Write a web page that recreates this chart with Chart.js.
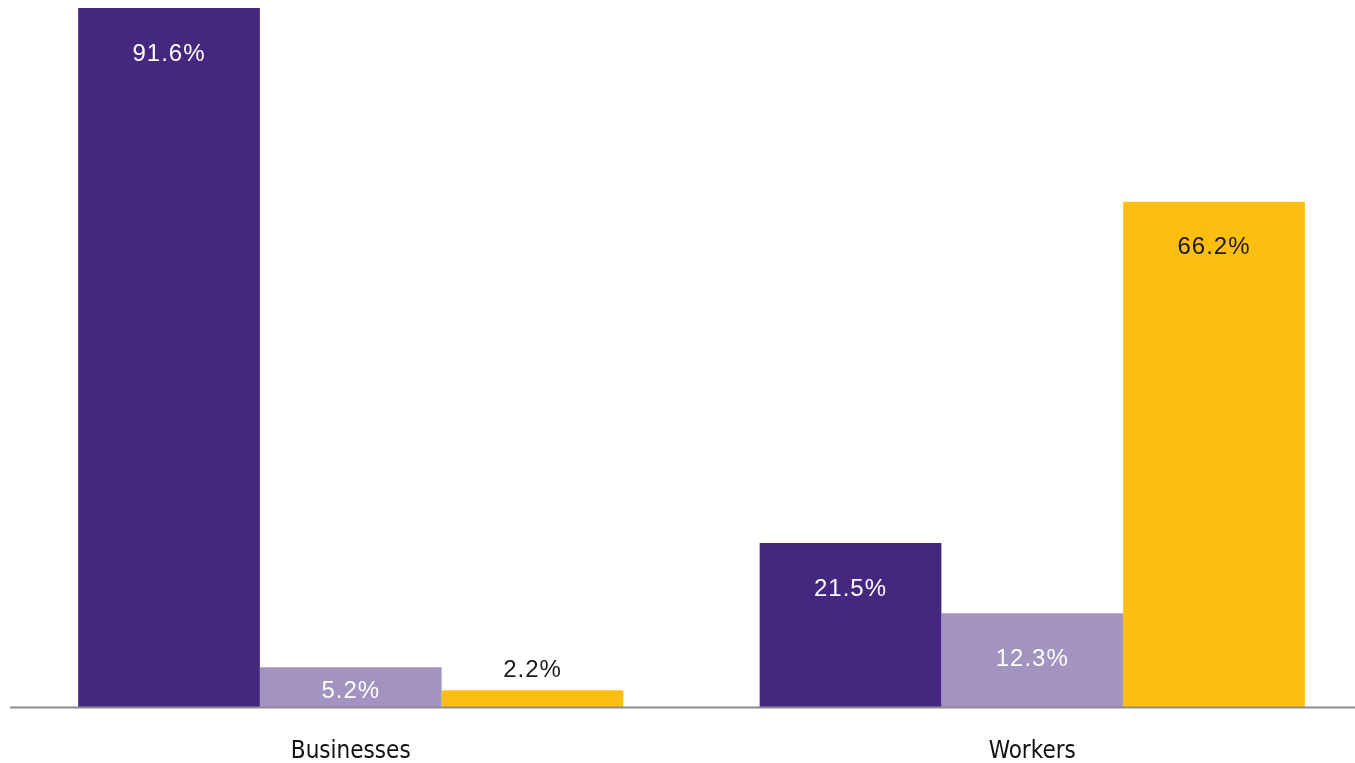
<!DOCTYPE html>
<html>
<head>
<meta charset="utf-8">
<script src="https://cdn.jsdelivr.net/npm/chart.js@4/dist/chart.umd.min.js"></script>
<style>
  html, body { margin: 0; padding: 0; background: #fff; overflow: hidden; }
  #wrap { position: relative; width: 1373px; height: 763px; }
</style>
</head>
<body>
<div id="wrap"><canvas id="shareChart"></canvas></div>
<script>
// Share of businesses vs. workers by firm size group
const categories = ['Businesses', 'Workers'];
const smallFirms = [91.6, 21.5];
const midFirms = [5.2, 12.3];
const largeFirms = [2.2, 66.2];

const seriesColors = ['#46277f', '#a293c0', '#fcbf10'];
const labelColors = ['#fff', '#fff', '#1a1a1a'];

// Draws the percentage on each bar: inside near the top, or above the bar when it is too thin
const barValueLabels = {
    id: 'barValueLabels',
    afterDatasetsDraw(chart) {
        const ctx = chart.ctx;
        ctx.save();
        ctx.font = '24px "Liberation Sans", Arial, sans-serif';
        ctx.letterSpacing = '1px';
        ctx.textAlign = 'center';
        ctx.textBaseline = 'middle';
        chart.data.datasets.forEach((ds, di) => {
            chart.getDatasetMeta(di).data.forEach((bar, i) => {
                const v = ds.data[i];
                const h = bar.base - bar.y;
                let y, color = labelColors[di];
                if (h < 30) {
                    y = bar.y - 20;
                    color = '#1a1a1a';
                } else if (h < 90) {
                    y = bar.y + Math.min(47, h / 2 + 4);
                } else {
                    y = bar.y + 46;
                }
                ctx.fillStyle = color;
                ctx.fillText(v.toFixed(1) + '%', bar.x, y);
            });
        });
        ctx.restore();
    }
};

// Baseline under the bars
const baseLine = {
    id: 'baseLine',
    afterDatasetsDraw(chart) {
        const ctx = chart.ctx;
        const y = chart.scales.y.getPixelForValue(0);
        ctx.save();
        ctx.strokeStyle = '#8c8c8c';
        ctx.lineWidth = 2;
        ctx.beginPath();
        ctx.moveTo(chart.chartArea.left, y + 0.5);
        ctx.lineTo(chart.width, y + 0.5);
        ctx.stroke();
        ctx.restore();
    }
};

new Chart(document.getElementById('shareChart'), {
    type: 'bar',
    data: {
        labels: categories,
        datasets: [
            { label: 'Small', data: smallFirms, backgroundColor: seriesColors[0] },
            { label: 'Mid', data: midFirms, backgroundColor: seriesColors[1] },
            { label: 'Large', data: largeFirms, backgroundColor: seriesColors[2] }
        ]
    },
    options: {
        responsive: true,
        maintainAspectRatio: false,
        animation: false,
        categoryPercentage: 0.8,
        barPercentage: 1.0,
        layout: { padding: { left: 10, right: 0, top: 8, bottom: 0 } },
        plugins: { legend: { display: false }, tooltip: { enabled: false } },
        scales: {
            x: {
                grid: { display: false, drawTicks: false },
                border: { display: false },
                afterFit(scale) { scale.height = 56; },
                ticks: {
                    color: '#111',
                    padding: 30,
                    font: { family: '"Liberation Sans Narrow", "DejaVu Sans Condensed", sans-serif', size: 24 }
                }
            },
            y: {
                display: false,
                min: 0,
                max: 91.6
            }
        }
    },
    plugins: [barValueLabels, baseLine]
});
</script>
</body>
</html>
